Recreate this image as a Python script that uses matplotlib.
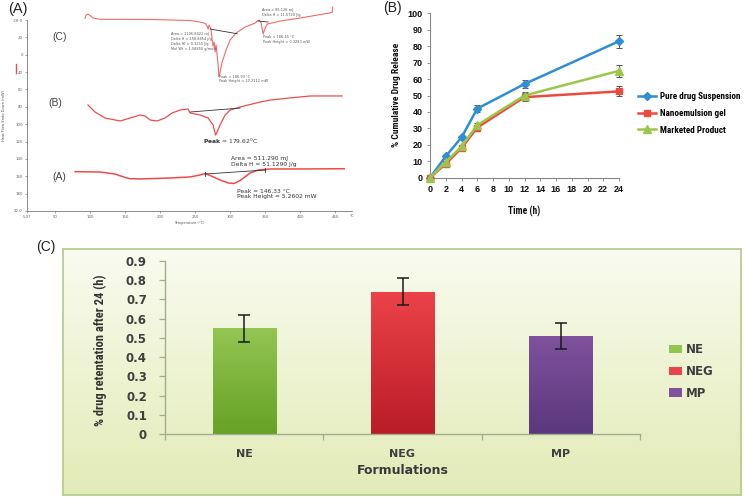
import matplotlib
matplotlib.use('Agg')
import matplotlib.pyplot as plt
import numpy as np
from matplotlib import font_manager as fm
from matplotlib.colors import LinearSegmentedColormap
from matplotlib.patches import Patch
from matplotlib.lines import Line2D

# ---------------- data ----------------
# Panel A (DSC thermograms)
dsc_c_T = [92.9, 94.3, 97.1, 100, 104.3, 114.3, 185.7, 242.9, 257.1, 264.3, 267.1, 268.6, 270, 271.4,
           272.9, 274.3, 275.7, 277.1, 278.6, 280, 281.4, 282.9, 283.9, 285.7, 288.6, 294.3, 300, 308.6,
           321.4, 335.7, 338.6, 341.4, 344.3, 347.1, 350, 352.9, 371.4, 400, 445.7, 446.4]
dsc_c_v = [221.9, 225.8, 226.9, 225.2, 222.3, 220.8, 220.6, 219.4, 217.6, 216.2, 213.1, 209.6, 214.2, 211.9,
           208.5, 197.0, 190.0, 194.7, 183.1, 191.2, 179.7, 168.1, 154.7, 160.1, 171.6, 185.4, 197.0, 205.0,
           211.9, 216.5, 218.8, 219.9, 216.5, 203.9, 210.8, 215.3, 218.8, 222.3, 228.6, 235.0]
dsc_b_T = [97.1, 107.1, 121.4, 142.9, 157.1, 171.4, 178.6, 185.7, 195.7, 207.1, 217.1, 228.6, 240, 241.4,
           242.9, 257.1, 268.6, 275.7, 279.3, 281.4, 285.7, 292.9, 300, 314.3, 342.9, 357.1, 385.7, 414.3, 460]
dsc_b_v = [122.1, 114.0, 107.1, 103.7, 107.1, 110.6, 109.4, 104.8, 103.7, 107.1, 112.9, 116.3, 117.5, 115.2,
           112.9, 110.6, 107.1, 99.0, 87.5, 91.0, 99.0, 110.6, 116.3, 119.8, 125.5, 127.8, 130.2, 132.5, 132.5]
dsc_a_T = [78.6, 114.3, 135.7, 150, 157.1, 171.4, 214.3, 242.9, 257.1, 264.3, 271.4, 285.7, 297.1, 305.7,
           314.3, 328.6, 340, 357.1, 400, 462.9]
dsc_a_v = [45.3, 44.9, 42.6, 38.6, 37.2, 36.9, 38.0, 39.2, 41.5, 43.2, 40.9, 35.7, 32.3, 31.7,
           35.1, 43.8, 47.2, 48.4, 48.4, 48.7]
dsc_base_c = ([271.4, 310], [209.6, 204.2])
dsc_base_c2 = ([340, 354.3], [218.8, 217.7])
dsc_base_b = ([242.9, 314.3], [114.0, 118.6])
dsc_base_a = ([264.3, 350], [42.6, 47.2])
dsc_xticks = [10, 50, 100, 150, 200, 250, 300, 350, 400, 450]
dsc_xlabels = ['5.07', '50', '100', '150', '200', '250', '300', '350', '400', '450']
dsc_yticks = [220, 200, 180, 160, 140, 120, 100, 80, 60, 40, 20, 0]
dsc_ylabels = ['-28.0', '20', '0', '40', '60', '80', '100', '120', '140', '160', '180', '22.0']

# Panel B (release profile)
time_h = [0, 2, 4, 6, 12, 24]
pure = [0, 13, 24.5, 42, 57, 83]
pure_err = [0.5, 0.8, 1.0, 2.0, 2.5, 4.0]
gel = [0, 8.5, 18, 30.5, 49, 52.5]
gel_err = [0.5, 0.8, 1.0, 1.2, 2.5, 3.0]
mkt = [0, 9.5, 19, 32, 50, 65]
mkt_err = [0.5, 0.8, 1.0, 1.0, 2.0, 3.5]
series_b = ['Pure drug Suspension', 'Nanoemulsion gel', 'Marketed Product']

# Panel C (retention)
formulations = ['NE', 'NEG', 'MP']
retention = [0.55, 0.74, 0.51]
retention_err = [0.07, 0.07, 0.07]

# ---------------- helpers ----------------
W, H = 745, 499
fig = plt.figure(figsize=(7.45, 4.99), dpi=100)
fig.patch.set_facecolor('white')


def rect(x0, y0, x1, y1):
    return [x0 / W, 1 - y1 / H, (x1 - x0) / W, (y1 - y0) / H]


def pick(fams):
    for f in fams:
        try:
            fm.findfont(fm.FontProperties(family=f), fallback_to_default=False)
            return f
        except Exception:
            pass
    return 'DejaVu Sans'


NARROW = pick(['Liberation Sans Narrow', 'Roboto Condensed', 'Liberation Sans'])
nf = 1.0 if ('Narrow' in NARROW or 'Condensed' in NARROW) else 0.82
ARIAL = pick(['Liberation Sans', 'DejaVu Sans'])

# ---------------- Panel A ----------------
fig.text(8 / W, 1 - 9 / H, '(A)', fontsize=10.5, family=ARIAL, va='center', ha='left', color='#222')
axA = fig.add_axes(rect(27, 20, 352, 211))
axA.set_xlim(10, 474)
axA.set_ylim(0, 220)
for s in ['top', 'right']:
    axA.spines[s].set_visible(False)
for s in ['left', 'bottom']:
    axA.spines[s].set_color('#777')
    axA.spines[s].set_linewidth(0.6)
red = '#ef4b4b'
axA.plot(dsc_c_T, dsc_c_v, color='#f26a6a', lw=0.8, clip_on=False)
axA.plot(dsc_b_T, dsc_b_v, color=red, lw=0.9, clip_on=False)
axA.plot(dsc_a_T, dsc_a_v, color=red, lw=1.1, clip_on=False)
for bx, by in [dsc_base_c, dsc_base_c2, dsc_base_b, dsc_base_a]:
    axA.plot(bx, by, color='#333', lw=0.6)
axA.plot([dsc_base_a[0][0]] * 2, [dsc_base_a[1][0] - 2.5, dsc_base_a[1][0] + 2.5], color='#333', lw=0.6)
axA.plot([dsc_base_a[0][1]] * 2, [dsc_base_a[1][1] - 2.5, dsc_base_a[1][1] + 2.5], color='#333', lw=0.6)
axA.set_xticks(dsc_xticks)
axA.set_xticklabels(dsc_xlabels, fontsize=2.8, color='#555')
axA.set_yticks(dsc_yticks)
axA.set_yticklabels(dsc_ylabels, fontsize=2.8, color='#555')
axA.tick_params(length=1.5, width=0.4, pad=1.5, colors='#666')
axA.text(471, -4, '°C', fontsize=2.8, color='#555', ha='left', va='top', clip_on=False)
axA.set_xlabel('Temperature (°C)', fontsize=2.5, color='#555', labelpad=1)
axA.set_ylabel('Heat Flow Endo Down (mW)', fontsize=2.6, color='#555', labelpad=5)
axA.plot([-0.034, -0.034], [0.72, 0.77], transform=axA.transAxes, color=red, lw=1.0, clip_on=False)
for lab, tx, ty in [('(C)', 45.7, 200.4), ('(B)', 40, 124.4), ('(A)', 45.7, 39.2)]:
    axA.text(tx, ty, lab, fontsize=7.5, family=ARIAL, color='#444', ha='left', va='center')
small = dict(fontsize=2.5, color='#555', ha='left', va='center', linespacing=1.3)
axA.text(215.7, 195, 'Area = 1106.8422 mJ\nDelta H = 158.8854 J/g\nDelta Hf = 0.3255 J/g\nMol Wt = 1.58850 g/mole', **small)
axA.text(284.3, 152, 'Peak = 180.93 °C\nPeak Height = 10.2112 mW', **small)
axA.text(347.1, 198, 'Peak = 186.45 °C\nPeak Height = 0.3283 mW', **small)
axA.text(345.7, 228.5, 'Area = 85.126 mJ\nDelta H = 11.5720 J/g', clip_on=False, **small)
axA.text(261.4, 80.6, r'$\bf{Peak}$ = 179.62$^0$C', fontsize=4.3, color='#333', ha='left', va='center')
axA.text(301.4, 57, 'Area = 511.290 mJ\nDelta H = 51.1290 J/g', fontsize=4.3, color='#333',
         ha='left', va='center', linespacing=1.2)
axA.text(310, 19.5, 'Peak = 146.33 °C\nPeak Height = 5.2602 mW', fontsize=4.3, color='#333',
         ha='left', va='center', linespacing=1.2)

# ---------------- Panel B ----------------
fig.text(383 / W, 1 - 8 / H, '(B)', fontsize=10, family=ARIAL, va='center', ha='left', color='#222')
axB = fig.add_axes(rect(430, 13.3, 619, 177.7))
blue_c, red_c, green_c = '#2f8fd2', '#ec4a3f', '#9cc64b'
lines = []
for vals, errs, col, mk, ms in [(pure, pure_err, blue_c, 'D', 3.6), (gel, gel_err, red_c, 's', 5),
                                 (mkt, mkt_err, green_c, '^', 5.2)]:
    axB.errorbar(time_h, vals, yerr=errs, fmt='none', ecolor='#555', elinewidth=0.7, capsize=2,
                 capthick=0.7, clip_on=False, zorder=2)
    ln, = axB.plot(time_h, vals, color=col, lw=1.8, marker=mk, ms=ms, mec=col, mfc=col,
                   clip_on=False, zorder=3)
    lines.append(ln)
axB.set_xlim(0, 24)
axB.set_ylim(0, 100)
axB.set_xticks(range(0, 25, 2))
axB.set_yticks(range(0, 101, 10))
for s in ['top', 'right']:
    axB.spines[s].set_visible(False)
for s in ['left', 'bottom']:
    axB.spines[s].set_color('#888')
    axB.spines[s].set_linewidth(0.8)
axB.tick_params(length=2.5, width=0.6, colors='#888', labelcolor='#111', labelsize=6.5, pad=3)
for t in axB.get_xticklabels() + axB.get_yticklabels():
    t.set_fontweight('bold')
    t.set_family(ARIAL)
fig.text(524.5 / W, 1 - 211 / H, 'Time (h)', fontsize=6.2 * nf / 0.9, family=NARROW, weight='bold',
         ha='center', va='center', color='#111')
fig.text(396.7 / W, 1 - 95 / H, '% Cumulative Drug Release', fontsize=6.8 * nf, family=NARROW,
         weight='bold', rotation=90, ha='center', va='center', color='#111')
legB = fig.legend(lines, series_b, loc='upper left', bbox_to_anchor=(638 / W, 1 - 92 / H),
                  frameon=False, prop=dict(family=NARROW, weight='bold', size=6.6 * nf),
                  handlelength=2.0, handletextpad=0.4, labelspacing=0.85, borderpad=0, borderaxespad=0)

# ---------------- Panel C ----------------
fig.text(46 / W, 1 - 247 / H, '(C)', fontsize=10, family=ARIAL, va='center', ha='center', color='#222')
axBG = fig.add_axes(rect(62.7, 249.3, 741, 495))
bg_cmap = LinearSegmentedColormap.from_list('bg', ['#e2ebb8', '#eef3d2', '#fafbf1'])
axBG.imshow(np.linspace(0, 1, 256).reshape(-1, 1)[::-1], cmap=bg_cmap, aspect='auto',
            extent=[0, 1, 0, 1])
axBG.set_xticks([])
axBG.set_yticks([])
for s in axBG.spines.values():
    s.set_color('#b9cd8e')
    s.set_linewidth(1.3)

axC = fig.add_axes(rect(165, 261, 640, 434))
axC.patch.set_alpha(0)
xpos = np.arange(len(formulations))
bar_cols = [('#66a225', '#93c552'), ('#b91c28', '#ec4349'), ('#5a387c', '#80529e')]
bars = axC.bar(xpos, retention, width=0.4, color=[c[1] for c in bar_cols], zorder=2)
for b, (c0, c1), xv, v in zip(bars, bar_cols, xpos, retention):
    cm = LinearSegmentedColormap.from_list('b', [c0, c1])
    im = axC.imshow(np.linspace(0, 1, 128).reshape(-1, 1), cmap=cm, origin='lower', aspect='auto',
                    extent=[xv - 0.2, xv + 0.2, 0, v], zorder=2.5)
    im.set_clip_path(b)
axC.errorbar(xpos, retention, yerr=retention_err, fmt='none', ecolor='#1a1a1a', elinewidth=1.1,
             capsize=4.5, capthick=1.1, zorder=4)
axC.set_xlim(-0.5, 2.5)
axC.set_ylim(0, 0.9)
axC.set_yticks(np.round(np.arange(0, 0.91, 0.1), 1))
axC.set_yticklabels(['0', '0.1', '0.2', '0.3', '0.4', '0.5', '0.6', '0.7', '0.8', '0.9'])
axC.set_xticks(xpos)
axC.set_xticklabels(formulations)
axC.set_xticks([-0.5, 0.5, 1.5, 2.5], minor=True)
for s in ['top', 'right']:
    axC.spines[s].set_visible(False)
for s in ['left', 'bottom']:
    axC.spines[s].set_color('#9fae8c')
    axC.spines[s].set_linewidth(1.0)
axC.tick_params(axis='y', length=4, width=0.9, colors='#9fae8c', labelcolor='#3f3f3f',
                labelsize=8.5, pad=9)
axC.tick_params(axis='x', which='major', length=0, labelcolor='#3f3f3f', labelsize=8, pad=11)
axC.tick_params(axis='x', which='minor', length=4, width=0.9, colors='#9fae8c')
for t in axC.get_xticklabels() + axC.get_yticklabels():
    t.set_fontweight('bold')
fig.text(403 / W, 1 - 471 / H, 'Formulations', fontsize=9, weight='bold', ha='center', va='center',
         color='#3a3a3a')
fig.text(100 / W, 1 - 350 / H, '% drug retentation after 24 (h)', fontsize=9 * nf, family=NARROW,
         weight='bold', rotation=90, ha='center', va='center', color='#333')
handlesC = [Patch(facecolor=c[1], edgecolor='none') for c in bar_cols]
fig.legend(handlesC, formulations, loc='upper left', bbox_to_anchor=(669 / W, 1 - 343 / H),
           frameon=False, prop=dict(size=8.5, weight='bold'), handlelength=1.1, handleheight=0.7,
           handletextpad=0.3, labelspacing=0.75, borderpad=0, borderaxespad=0, labelcolor='#3f3f3f')

fig.savefig('out.png', dpi=100)
